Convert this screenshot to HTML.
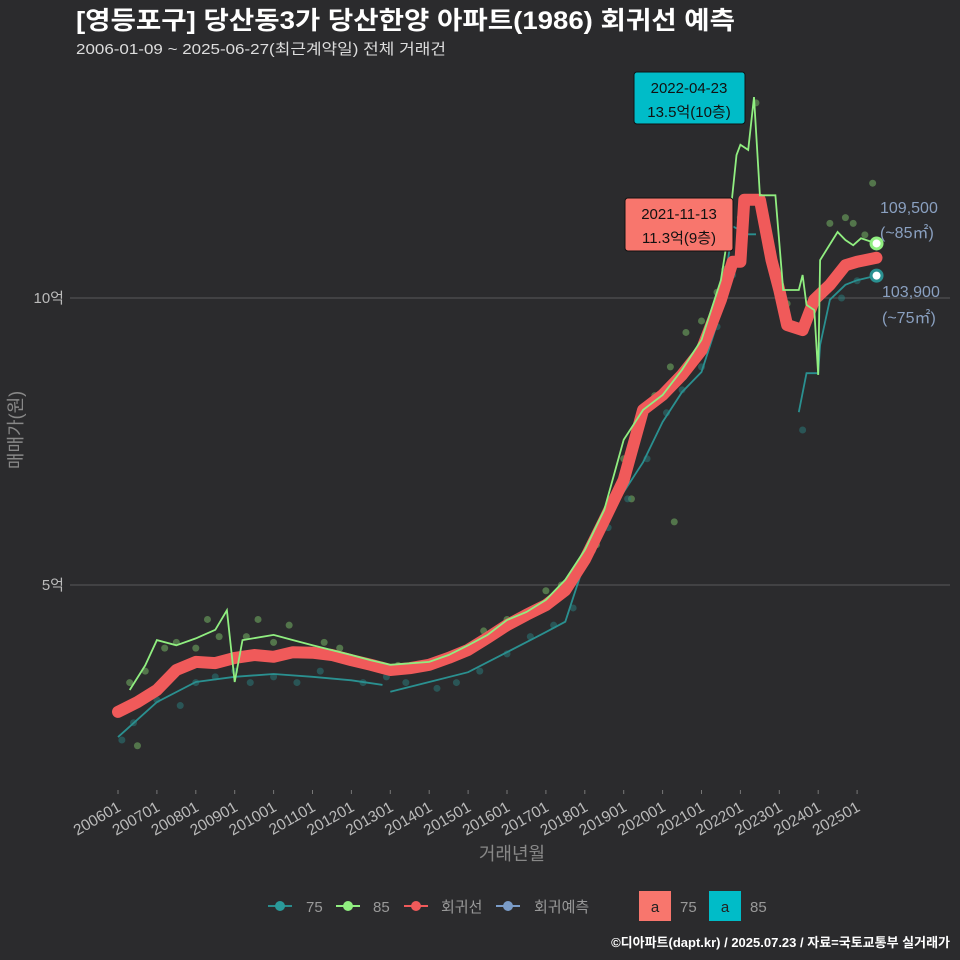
<!DOCTYPE html>
<html><head><meta charset="utf-8"><style>
html,body{margin:0;padding:0;background:#2b2b2d;width:960px;height:960px;overflow:hidden;}
svg{display:block;}
svg text{font-family:"Liberation Sans","Noto Sans CJK KR",sans-serif;}
</style></head><body>
<svg id="chart" width="960" height="960" xmlns="http://www.w3.org/2000/svg">
<rect width="960" height="960" fill="#2b2b2d"/>
<text x="76" y="29" fill="#ffffff" font-size="25" font-weight="bold" textLength="659" lengthAdjust="spacingAndGlyphs">[영등포구] 당산동3가 당산한양 아파트(1986) 회귀선 예측</text>
<text x="76" y="54" fill="#dddddd" font-size="15" textLength="370" lengthAdjust="spacingAndGlyphs">2006-01-09 ~ 2025-06-27(최근계약일) 전체 거래건</text>
<g id="grid"></g>
<g id="marks"></g>
<g id="axes"></g>
<text transform="translate(22,430) rotate(-90)" text-anchor="middle" fill="#888" font-size="18">매매가(원)</text>
<text x="512" y="860" text-anchor="middle" fill="#888" font-size="18">거래년월</text>
<g>
<g><line x1="268" x2="292" y1="906" y2="906" stroke="#2a8c8c" stroke-width="2"/><circle cx="280" cy="906" r="5" fill="#2a9a9a"/><text x="306" y="912" fill="#999" font-size="15">75</text></g>
<g><line x1="336" x2="360" y1="906" y2="906" stroke="#90ee80" stroke-width="2"/><circle cx="348" cy="906" r="5" fill="#90ee80"/><text x="373" y="912" fill="#999" font-size="15">85</text></g>
<g><line x1="404" x2="428" y1="906" y2="906" stroke="#f05a5a" stroke-width="2"/><circle cx="416" cy="906" r="5" fill="#f05a5a"/><text x="441" y="912" fill="#999" font-size="15">회귀선</text></g>
<g><line x1="496" x2="520" y1="906" y2="906" stroke="#7a9cc8" stroke-width="2"/><circle cx="508" cy="906" r="5" fill="#7a9cc8"/><text x="534" y="912" fill="#999" font-size="15">회귀예측</text></g>
<g><rect x="639" y="891" width="32" height="30" fill="#f8766d"/><text x="655" y="912" text-anchor="middle" fill="#222" font-size="15">a</text><text x="680" y="912" fill="#999" font-size="15">75</text></g>
<g><rect x="709" y="891" width="32" height="30" fill="#00bcc8"/><text x="725" y="912" text-anchor="middle" fill="#222" font-size="15">a</text><text x="750" y="912" fill="#999" font-size="15">85</text></g>
</g>
<text x="950" y="947" text-anchor="end" fill="#ffffff" font-size="13" font-weight="bold">©디아파트(dapt.kr) / 2025.07.23 / 자료=국토교통부 실거래가</text>
<g><rect x="634" y="72" width="111" height="52" rx="3" fill="#00bcc8" stroke="#111"/><text x="689" y="93" text-anchor="middle" fill="#111" font-size="15">2022-04-23</text><text x="689" y="117" text-anchor="middle" fill="#111" font-size="15">13.5억(10층)</text></g>
<g><rect x="625" y="198" width="108" height="53" rx="3" fill="#f8766d" stroke="#111"/><text x="679" y="219" text-anchor="middle" fill="#111" font-size="15">2021-11-13</text><text x="679" y="243" text-anchor="middle" fill="#111" font-size="15">11.3억(9층)</text></g>
<g fill="#8aa0c0" font-size="16"><text x="880" y="213">109,500</text><text x="880" y="238">(~85㎡)</text></g>
<g fill="#8aa0c0" font-size="16"><text x="882" y="297">103,900</text><text x="882" y="323">(~75㎡)</text></g>
</svg>
<script>
const yTicks=[5,10];
const yTickLabels=['5억','10억'];
const xTickYears=[2006,2007,2008,2009,2010,2011,2012,2013,2014,2015,2016,2017,2018,2019,2020,2021,2022,2023,2024,2025];
const regT=[2006.0,2006.5,2007.0,2007.5,2008.0,2008.5,2009.0,2009.5,2010.0,2010.5,2011.0,2011.5,2012.0,2012.5,2013.0,2013.5,2014.0,2014.5,2015.0,2015.5,2016.0,2016.5,2017.0,2017.5,2018.0,2018.5,2019.0,2019.5,2020.0,2020.5,2021.0,2021.5,2021.8,2022.0,2022.1,2022.5,2022.8,2023.0,2023.2,2023.6,2023.9,2024.3,2024.7,2025.0,2025.5];
const regV=[2.79,2.96,3.17,3.52,3.66,3.64,3.73,3.78,3.75,3.83,3.82,3.78,3.69,3.61,3.52,3.55,3.61,3.73,3.87,4.08,4.30,4.48,4.65,4.91,5.44,6.13,6.83,8.05,8.31,8.66,9.09,9.97,10.63,10.63,11.71,11.71,10.66,10.14,9.53,9.44,9.97,10.23,10.57,10.63,10.70];
const s85T=[2006.3,2006.7,2007.0,2007.5,2008.0,2008.5,2008.8,2009.0,2009.2,2010.0,2010.5,2011.0,2012.0,2012.5,2013.0,2014.0,2014.5,2015.0,2015.5,2016.0,2016.5,2017.0,2017.5,2018.0,2018.5,2019.0,2019.5,2020.0,2020.5,2021.0,2021.5,2021.7,2021.9,2022.0,2022.2,2022.35,2022.5,2022.9,2023.1,2023.5,2023.6,2023.7,2023.9,2024.0,2024.05,2024.5,2024.7,2024.9,2025.1,2025.5];
const s85V=[3.17,3.6,4.04,3.95,4.07,4.22,4.56,3.31,4.04,4.13,4.04,3.95,3.78,3.69,3.61,3.66,3.78,3.95,4.13,4.39,4.53,4.74,5.09,5.61,6.31,7.53,8.05,8.31,8.75,9.27,10.31,11.18,12.49,12.67,12.58,13.50,11.79,11.79,10.14,10.14,10.40,9.88,9.79,8.66,10.66,11.15,11.01,10.92,11.04,10.95];
const s75T=[2006.0,2007.0,2008.0,2009.0,2010.0,2011.0,2012.0,2012.8,null,2013.0,2014.0,2015.0,2016.0,2017.0,2017.5,2018.0,2018.5,2019.0,2019.5,2020.0,2020.5,2021.0,2021.5,2021.8,2022.2,2022.4,null,2023.5,2023.7,2024.0,2024.05,2024.3,2024.7,2025.0,2025.5];
const s75V=[2.35,2.96,3.31,3.40,3.45,3.40,3.34,3.26,null,3.14,3.31,3.48,3.83,4.18,4.36,5.40,6.10,6.62,7.14,7.84,8.36,8.71,9.76,11.25,11.11,11.11,null,8.01,8.69,8.69,9.18,9.97,10.23,10.31,10.39];
const dot85T=[2006.3,2006.5,2006.7,2007.2,2007.5,2008.0,2008.3,2008.6,2009.3,2009.6,2010.0,2010.4,2010.8,2011.3,2011.7,2012.1,2013.2,2014.0,2014.5,2015.0,2015.4,2016.0,2016.5,2017.0,2017.4,2017.8,2018.3,2018.7,2019.0,2019.4,2019.8,2020.2,2020.6,2021.0,2021.4,2021.6,2022.0,2022.4,2023.2,2023.7,2024.3,2024.7,2024.9,2025.2,2025.4,2020.3,2019.2];
const dot85V=[3.3,2.2,3.5,3.9,4.0,3.9,4.4,4.1,4.1,4.4,4.0,4.3,3.8,4.0,3.9,3.7,3.6,3.6,3.7,3.9,4.2,4.4,4.5,4.9,5.0,5.2,5.7,6.5,7.2,7.8,8.3,8.8,9.4,9.6,10.1,10.5,11.4,13.4,9.9,9.6,11.3,11.4,11.3,11.1,12.0,6.1,6.5];
const dot75T=[2006.1,2006.4,2007.0,2007.6,2008.0,2008.5,2009.0,2009.4,2010.0,2010.6,2011.2,2011.8,2012.3,2012.9,2013.4,2014.2,2014.7,2015.3,2016.0,2016.6,2017.2,2017.7,2018.2,2018.6,2019.1,2019.6,2020.1,2020.5,2021.0,2021.4,2021.8,2023.6,2024.2,2024.6,2025.0];
const dot75V=[2.3,2.6,3.0,2.9,3.3,3.4,3.5,3.3,3.4,3.3,3.5,3.7,3.3,3.4,3.3,3.2,3.3,3.5,3.8,4.1,4.3,4.6,5.6,6.0,6.5,7.2,8.0,8.4,8.8,9.5,10.4,7.7,10.2,10.0,10.3];
const NS='http://www.w3.org/2000/svg';
const X=t=>118+(t-2006)*38.9;
const Y=v=>872-v*57.4;
function el(tag,attrs,parent){const e=document.createElementNS(NS,tag);for(const k in attrs)e.setAttribute(k,attrs[k]);document.getElementById(parent).appendChild(e);return e;}
function path(T,V){let d='',pen=false;for(let i=0;i<T.length;i++){if(T[i]===null){pen=false;continue;}d+=(pen?'L':'M')+X(T[i]).toFixed(1)+','+Y(V[i]).toFixed(1);pen=true;}return d;}
yTicks.forEach((v,i)=>{
const g=el('line',{x1:70,x2:950,y1:Y(v),y2:Y(v),stroke:'#5a5a5a','stroke-width':1},'grid');


const t=el('text',{x:64,y:Y(v)+5,'text-anchor':'end',fill:'#bbb','font-size':15},'axes');t.textContent=yTickLabels[i];


});
xTickYears.forEach(yr=>{
const x=X(yr);
const tk=el('line',{x1:x,x2:x,y1:790,y2:794,stroke:'#777'},'axes');


const t=el('text',{x:x+4,y:810,'text-anchor':'end',fill:'#bbb','font-size':15.5,transform:`rotate(-30 ${x+4} 810)`},'axes');t.textContent=yr+'01';


});
dot85T.forEach((t,i)=>{const c=el('circle',{cx:X(t),cy:Y(dot85V[i]),r:3.5,fill:'#7cc06a','fill-opacity':0.5},'marks');

});
dot75T.forEach((t,i)=>{const c=el('circle',{cx:X(t),cy:Y(dot75V[i]),r:3.5,fill:'#2a8080','fill-opacity':0.5},'marks');

});
const l75=el('path',{d:path(s75T,s75V),fill:'none',stroke:'#2a9090','stroke-width':1.8},'marks');


const reg=el('path',{d:path(regT,regV),fill:'none',stroke:'#f05a5a','stroke-width':12,'stroke-linejoin':'round','stroke-linecap':'round'},'marks');


const l85=el('path',{d:path(s85T,s85V),fill:'none',stroke:'#90ee80','stroke-width':1.8},'marks');


const e85=el('circle',{cx:X(2025.5),cy:Y(10.95),r:5.5,fill:'#fff',stroke:'#90ee80','stroke-width':3},'marks');


const e75=el('circle',{cx:X(2025.5),cy:Y(10.39),r:5.5,fill:'#fff',stroke:'#2a9090','stroke-width':3},'marks');


</script>
</body></html>
